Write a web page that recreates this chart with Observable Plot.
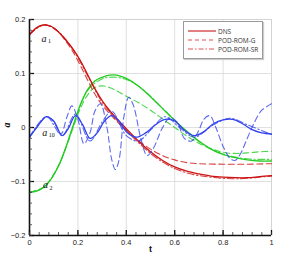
<!DOCTYPE html>
<html><head><meta charset="utf-8">
<script src="https://cdn.jsdelivr.net/npm/d3@7"></script>
<script src="https://cdn.jsdelivr.net/npm/@observablehq/plot@0.6"></script>
<style>
html,body{margin:0;padding:0;background:#fff;}
#wrap{position:relative;width:291px;height:259px;}
#legend{position:absolute;left:183px;top:21px;width:78px;height:36px;border:1px solid #9a9a9a;background:#fff;box-shadow:1px 1px 1px #ccc;font-family:"Open Sans",sans-serif;font-size:6.5px;color:#333;}
#legend .row{position:absolute;left:4px;height:8px;display:flex;align-items:center;}
#legend svg{margin-right:2px;}
</style></head>
<body><div id="wrap"></div>
<script>
// ---- data ----
const xTicks = [0, 0.2, 0.4, 0.6, 0.8, 1];
const yTicks = [-0.2, -0.1, 0, 0.1, 0.2];
const xMinor = d3.range(0, 1.0001, 0.04);
const yMinor = d3.range(-0.2, 0.2001, 0.02);
const methods = ["DNS", "POD-ROM-G", "POD-ROM-SR"];

const a1DNS = [[0,0.172],[0.03,0.185],[0.06,0.19],[0.09,0.187],[0.12,0.177],[0.15,0.162],[0.18,0.145],[0.21,0.124],[0.24,0.098],[0.27,0.072],[0.3,0.05],[0.33,0.032],[0.36,0.017],[0.4,-0.002],[0.45,-0.025],[0.5,-0.045],[0.55,-0.061],[0.6,-0.073],[0.65,-0.081],[0.7,-0.086],[0.75,-0.09],[0.8,-0.092],[0.85,-0.093],[0.9,-0.093],[0.95,-0.091],[1,-0.089]];
const a1G = [[0,0.172],[0.03,0.185],[0.06,0.19],[0.09,0.187],[0.12,0.177],[0.15,0.16],[0.18,0.14],[0.21,0.115],[0.24,0.088],[0.27,0.062],[0.3,0.042],[0.33,0.026],[0.36,0.012],[0.4,-0.005],[0.45,-0.024],[0.5,-0.04],[0.55,-0.052],[0.6,-0.06],[0.65,-0.065],[0.7,-0.067],[0.8,-0.068],[0.9,-0.068],[1,-0.067]];
const a1SR = [[0,0.172],[0.06,0.19],[0.12,0.177],[0.18,0.144],[0.24,0.096],[0.3,0.047],[0.36,0.014],[0.4,-0.005],[0.45,-0.028],[0.5,-0.048],[0.55,-0.064],[0.6,-0.076],[0.65,-0.084],[0.7,-0.089],[0.75,-0.092],[0.8,-0.094],[0.85,-0.095],[0.9,-0.094],[0.95,-0.092],[1,-0.09]];

const a2DNS = [[0,-0.12],[0.03,-0.118],[0.06,-0.11],[0.09,-0.095],[0.12,-0.071],[0.15,-0.037],[0.18,0.003],[0.21,0.042],[0.24,0.07],[0.27,0.086],[0.3,0.093],[0.33,0.097],[0.36,0.097],[0.4,0.091],[0.45,0.077],[0.5,0.057],[0.55,0.035],[0.6,0.013],[0.65,-0.007],[0.7,-0.025],[0.75,-0.04],[0.8,-0.05],[0.85,-0.056],[0.9,-0.06],[0.95,-0.062],[1,-0.062]];
const a2G = [[0,-0.12],[0.06,-0.11],[0.12,-0.071],[0.15,-0.038],[0.18,-0.001],[0.21,0.035],[0.24,0.06],[0.27,0.074],[0.3,0.077],[0.33,0.074],[0.36,0.068],[0.4,0.058],[0.45,0.046],[0.5,0.032],[0.55,0.016],[0.6,0.0],[0.65,-0.016],[0.7,-0.029],[0.75,-0.039],[0.8,-0.046],[0.85,-0.048],[0.9,-0.047],[0.95,-0.045],[1,-0.044]];
const a2SR = [[0,-0.12],[0.06,-0.11],[0.12,-0.071],[0.18,0.002],[0.24,0.068],[0.3,0.09],[0.36,0.093],[0.42,0.085],[0.48,0.066],[0.54,0.04],[0.6,0.013],[0.66,-0.012],[0.72,-0.032],[0.78,-0.046],[0.84,-0.054],[0.9,-0.058],[0.95,-0.059],[1,-0.059]];

const a10DNS = [[0,-0.018],[0.03,0.0],[0.07,0.02],[0.1,0.012],[0.135,-0.015],[0.16,-0.002],[0.19,0.022],[0.22,0.005],[0.25,-0.02],[0.28,-0.01],[0.31,0.012],[0.34,0.022],[0.37,0.012],[0.4,-0.008],[0.44,-0.018],[0.48,-0.01],[0.52,0.005],[0.56,0.015],[0.6,0.012],[0.64,-0.005],[0.68,-0.015],[0.72,-0.008],[0.76,0.007],[0.8,0.014],[0.84,0.015],[0.88,0.007],[0.92,-0.004],[0.96,-0.01],[1,-0.012]];
const a10G = [[0,-0.018],[0.05,0.012],[0.07,0.02],[0.1,0.01],[0.13,-0.012],[0.155,0.02],[0.175,0.04],[0.2,0.015],[0.225,-0.03],[0.25,-0.01],[0.27,0.03],[0.293,0.044],[0.32,0.0],[0.34,-0.06],[0.355,-0.078],[0.37,-0.06],[0.39,0.02],[0.41,0.056],[0.43,0.04],[0.46,-0.02],[0.486,-0.052],[0.51,-0.04],[0.55,0.0],[0.58,0.018],[0.61,0.01],[0.64,-0.02],[0.67,-0.025],[0.7,-0.005],[0.72,0.015],[0.745,0.022],[0.77,0.0],[0.8,-0.035],[0.83,-0.058],[0.85,-0.061],[0.87,-0.05],[0.9,-0.02],[0.93,0.01],[0.96,0.032],[1,0.044]];
const a10SR = [[0,-0.018],[0.07,0.02],[0.135,-0.015],[0.19,0.025],[0.25,-0.025],[0.3,0.01],[0.34,0.03],[0.4,-0.015],[0.45,-0.025],[0.5,-0.005],[0.56,0.02],[0.62,0.0],[0.68,-0.018],[0.76,0.005],[0.83,0.017],[0.9,0.005],[1,-0.013]];

const modeLabels = [
  {name: "a", sub: "1", t: 0.072, a: 0.165},
  {name: "a", sub: "10", t: 0.075, a: -0.009},
  {name: "a", sub: "2", t: 0.078, a: -0.107}
];

// ---- build table ----
const seriesList = [
  {mode: "a2", method: "DNS", pts: a2DNS}, {mode: "a2", method: "POD-ROM-G", pts: a2G}, {mode: "a2", method: "POD-ROM-SR", pts: a2SR},
  {mode: "a1", method: "DNS", pts: a1DNS}, {mode: "a1", method: "POD-ROM-G", pts: a1G}, {mode: "a1", method: "POD-ROM-SR", pts: a1SR},
  {mode: "a10", method: "DNS", pts: a10DNS}, {mode: "a10", method: "POD-ROM-G", pts: a10G}, {mode: "a10", method: "POD-ROM-SR", pts: a10SR}
];
const colors = {a1: "#cc1111", a2: "#22cc22", a10: "#3344ee"};
const dashes = {"DNS": null, "POD-ROM-G": "6,3.5", "POD-ROM-SR": "7,2.5,1.5,2.5"};
const opac = {"DNS": 1, "POD-ROM-G": 0.8, "POD-ROM-SR": 0.8};
const widths = {"DNS": 1.3, "POD-ROM-G": 1.1, "POD-ROM-SR": 1.1};

const lineMarks = seriesList.map(s => Plot.line(s.pts.map(([t, a]) => ({t, a})), {
  x: "t", y: "a", stroke: colors[s.mode], strokeWidth: widths[s.method],
  strokeDasharray: dashes[s.method], strokeOpacity: opac[s.method], curve: "catmull-rom"
}));

const fmt = d => d === 0 ? "0" : d3.format("")(+d.toFixed(1));

const chart = Plot.plot({
  width: 291, height: 259,
  marginLeft: 29, marginRight: 20, marginTop: 19, marginBottom: 24,
  x: {domain: [0, 1]},
  y: {domain: [-0.2, 0.2]},
  style: {fontFamily: "'Liberation Sans', Arial, sans-serif", fontSize: "7.5px", color: "#222", background: "#fff"},
  marks: [
    Plot.gridX(xTicks, {stroke: "#d8d8d8", strokeOpacity: 1, strokeWidth: 0.8}),
    Plot.gridY(yTicks, {stroke: "#d8d8d8", strokeOpacity: 1, strokeWidth: 0.8}),
    Plot.frame({stroke: "#d0d0d0", strokeWidth: 0.8}),
    ...lineMarks,
    Plot.text(modeLabels, {x: "t", y: "a", text: "name", fontFamily: "'Liberation Serif', serif", fontStyle: "italic", fontSize: 10, fill: "#111", dx: -3}),
    Plot.text(modeLabels, {x: "t", y: "a", text: "sub", fontFamily: "'Liberation Serif', serif", fontSize: 6, fill: "#111", dx: 1, dy: 3, textAnchor: "start"}),
    Plot.ruleX([0], {stroke: "#111", strokeWidth: 1.6}),
    Plot.ruleY([-0.2], {stroke: "#111", strokeWidth: 1.6}),
    Plot.tickX(xTicks, {stroke: "#111", strokeWidth: 1.3, insetTop: 216 - 5}),
    Plot.tickX(xMinor, {stroke: "#333", strokeWidth: 0.8, insetTop: 216 - 3}),
    Plot.tickY(yTicks, {stroke: "#111", strokeWidth: 1.3, insetRight: 242 - 5}),
    Plot.tickY(yMinor, {stroke: "#333", strokeWidth: 0.8, insetRight: 242 - 3}),
    Plot.axisX(xTicks, {tickSize: 0, tickPadding: 4, tickFormat: fmt, label: null}),
    Plot.axisY(yTicks, {tickSize: 0, tickPadding: 4, tickFormat: fmt, label: null}),
    Plot.text(["t"], {frameAnchor: "bottom", dy: 16, fontWeight: "bold", fontSize: 9, fill: "#111"}),
    Plot.text(["a"], {frameAnchor: "left", dx: -23, rotate: -90, fontWeight: "bold", fontStyle: "italic", fontFamily: "'Liberation Serif', serif", fontSize: 10, fill: "#111"})
  ]
});

const wrap = document.getElementById("wrap");
wrap.appendChild(chart);

// legend
const legend = document.createElement("div");
legend.id = "legend";
const legendColor = {"DNS": "#c00000", "POD-ROM-G": "#e05050", "POD-ROM-SR": "#e05050"};
const legendDash = {"DNS": "", "POD-ROM-G": "4,3", "POD-ROM-SR": "5,2,1.5,2"};
methods.forEach((m, i) => {
  const row = document.createElement("div");
  row.className = "row";
  row.style.top = (5 + i * 9) + "px";
  row.innerHTML = `<svg width="28" height="6"><line x1="0" y1="3" x2="28" y2="3" stroke="${legendColor[m]}" stroke-width="1" ${legendDash[m] ? `stroke-dasharray="${legendDash[m]}"` : ""}/></svg><span>${m}</span>`;
  legend.appendChild(row);
});
wrap.appendChild(legend);
</script>
</body></html>
